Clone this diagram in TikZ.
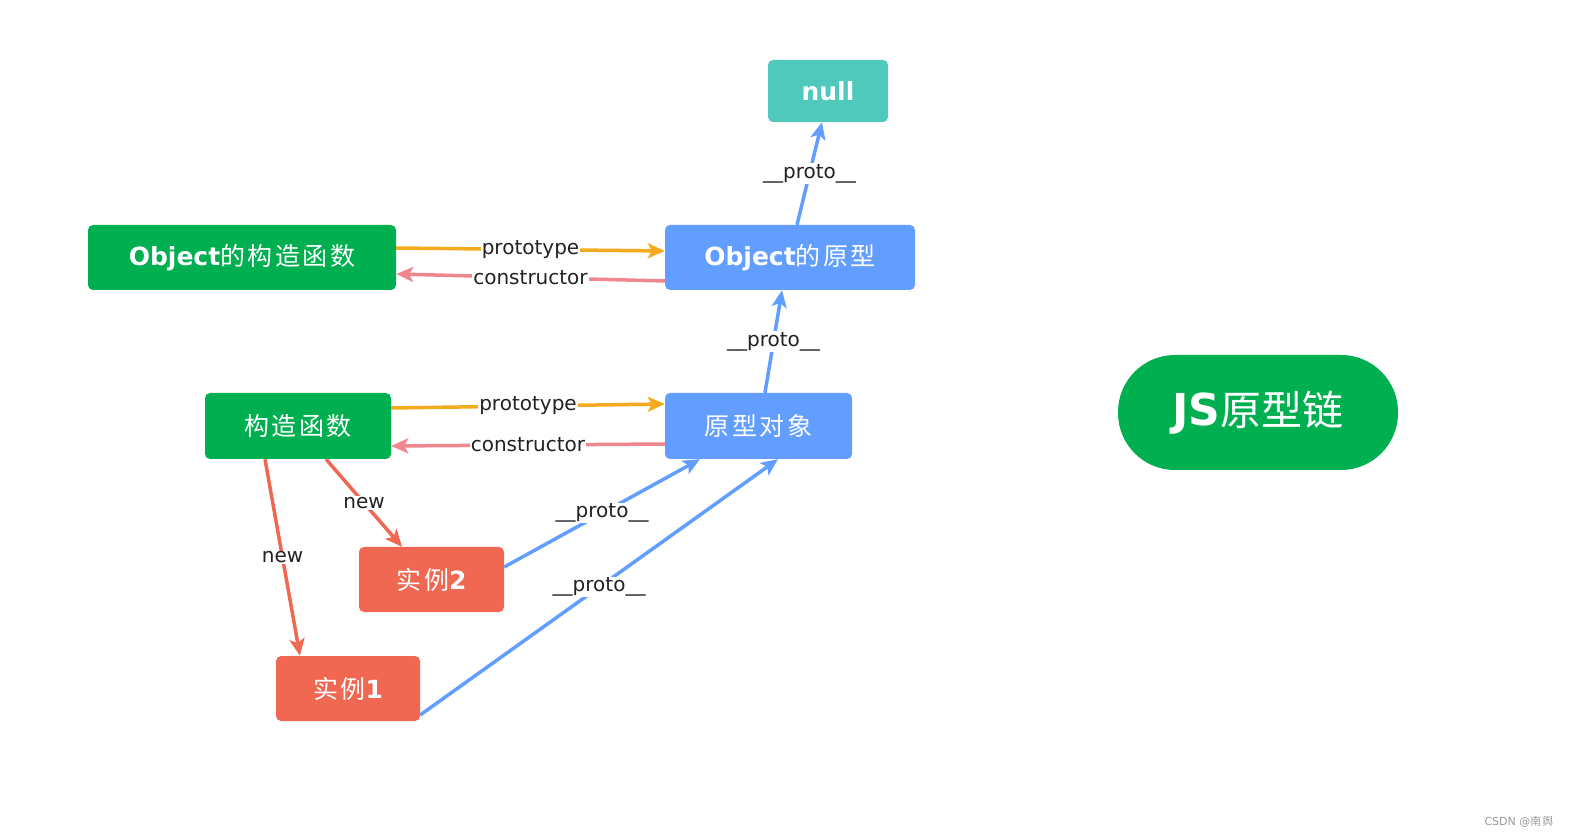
\documentclass[tikz,border=0pt]{standalone}
\usepackage{fontspec}
\setmainfont{DejaVu Sans}
\newfontfamily\cjk[LetterSpace=10]{Noto Sans CJK SC}
\newfontfamily\cjkplain{Noto Sans CJK SC}
\usetikzlibrary{arrows.meta}
\definecolor{cgreen}{HTML}{00B050}
\definecolor{cblue}{HTML}{619EFF}
\definecolor{cteal}{HTML}{4EC9BC}
\definecolor{cred}{HTML}{F06752}
\definecolor{cyellow}{HTML}{F5AA1E}
\definecolor{cpink}{HTML}{F0868E}
\definecolor{ctext}{HTML}{222222}
\newcommand\zh[1]{{\cjk\mdseries #1}}
\begin{document}
\begin{tikzpicture}[x=1pt,y=1pt,
  box/.style={rounded corners=5pt, text=white, inner sep=0pt, anchor=center,
    font=\fontsize{25}{30}\selectfont\bfseries},
  gbox/.style={box, fill=cgreen},
  bbox/.style={box, fill=cblue},
  tbox/.style={box, fill=cteal},
  rbox/.style={box, fill=cred},
  conn/.style={line width=3.5pt, -{Stealth[length=17pt,width=15pt,inset=4pt]}},
  lbl/.style={fill=white, text=ctext, inner sep=1pt, font=\fontsize{20}{23}\selectfont},
]
\useasboundingbox (0,0) rectangle (1572,839);
% nodes
\node[tbox, minimum width=120pt, minimum height=62pt] (null) at (828,748) {null};
\node[gbox, minimum width=308pt, minimum height=65pt] (objctor) at (242,581.5) {Object\zh{的构造函数}};
\node[bbox, minimum width=250pt, minimum height=65pt] (objproto) at (790,581.5) {Object\zh{的原型}};
\node[gbox, minimum width=186pt, minimum height=66pt] (ctor) at (298,413) {\zh{构造函数}};
\node[bbox, minimum width=187pt, minimum height=66pt] (proto) at (758.5,413) {\zh{原型对象}};
\node[rbox, minimum width=145pt, minimum height=65pt] (inst2) at (431.5,259.5) {\zh{实例}2};
\node[rbox, minimum width=144pt, minimum height=65pt] (inst1) at (348,150.5) {\zh{实例}1};
\node[fill=cgreen, rounded corners=57pt, minimum width=280pt, minimum height=115pt, text=white,
  font=\fontsize{44}{50}\selectfont\bfseries] (js) at (1258,426.5) {JS{\cjkplain\mdseries\fontsize{41}{48}\selectfont 原型链}};
\node[text=gray!80, font=\fontsize{11}{13}\selectfont] (wm) at (1519,17) {CSDN @\zh{南舆}};
% connectors
\draw[conn, cyellow] ([yshift=9.5pt]objctor.east) -- node[lbl]{prototype} ([yshift=6.5pt]objproto.west);
\draw[conn, cpink] ([yshift=-23.5pt]objproto.west) -- node[lbl]{constructor} ([yshift=-16.5pt]objctor.east);
\draw[conn, cyellow] ([yshift=18pt]ctor.east) -- node[lbl]{prototype} ([yshift=22pt]proto.west);
\draw[conn, cpink] ([yshift=-18pt]proto.west) -- node[lbl]{constructor} ([yshift=-20pt]ctor.east);
\draw[conn, cblue] ([xshift=7pt]objproto.north) -- node[lbl]{\_\_proto\_\_} ([xshift=-6pt]null.south);
\draw[conn, cblue] ([xshift=6.5pt]proto.north) -- node[lbl]{\_\_proto\_\_} ([xshift=-8pt]objproto.south);
\draw[conn, cred] ([xshift=28pt]ctor.south) -- node[lbl]{new} ([xshift=-29.5pt]inst2.north);
\draw[conn, cred] ([xshift=-33pt]ctor.south) -- node[lbl]{new} ([xshift=-48pt]inst1.north);
\draw[conn, cblue] ([yshift=12.5pt]inst2.east) -- node[lbl]{\_\_proto\_\_} ([xshift=-58.5pt]proto.south);
\draw[conn, cblue] ([yshift=-26.5pt]inst1.east) -- node[lbl]{\_\_proto\_\_} ([xshift=19.5pt]proto.south);
\end{tikzpicture}
\end{document}
